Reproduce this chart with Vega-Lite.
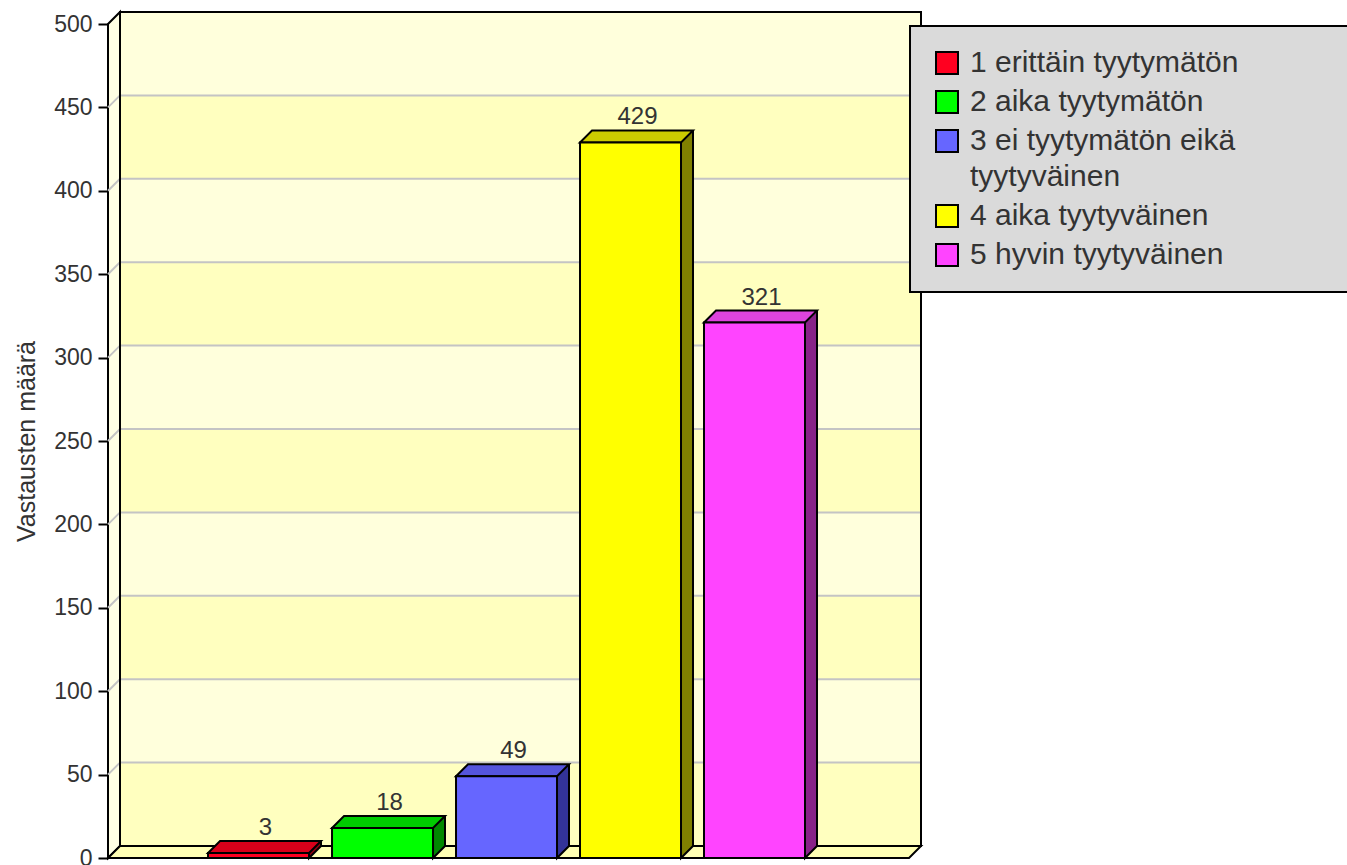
{
  "$schema": "https://vega.github.io/schema/vega-lite/v6.json",
  "width": 801,
  "height": 834,
  "autosize": {"type": "none"},
  "padding": {"left": 108, "top": 24, "right": 438, "bottom": 7},
  "background": "white",
  "config": {
    "view": {"stroke": null},
    "font": "Liberation Sans",
    "axisY": {"tickCount": 10, "grid": false, "tickSize": 10, "tickWidth": 2, "tickColor": "#000",
              "domainColor": "#000", "domainWidth": 2, "labelFont": "Liberation Sans", "labelFontSize": 23, "labelColor": "#333", "labelPadding": 6,
              "titleFont": "Liberation Sans", "titleFontSize": 25, "titleFontWeight": "normal", "titleColor": "#333", "titlePadding": 14}
  },
  "datasets": {
    "one": [{"kehys": "tausta"}],
    "bars": [
      {"arvo": 1, "vastaus": "1 erittäin tyytymätön", "maara": 3},
      {"arvo": 2, "vastaus": "2 aika tyytymätön", "maara": 18},
      {"arvo": 3, "vastaus": "3 ei tyytymätön eikä tyytyväinen", "maara": 49},
      {"arvo": 4, "vastaus": "4 aika tyytyväinen", "maara": 429},
      {"arvo": 5, "vastaus": "5 hyvin tyytyväinen", "maara": 321}
    ],
    "bands": [
      {"lo": 0, "hi": 50}, {"lo": 100, "hi": 150}, {"lo": 200, "hi": 250}, {"lo": 300, "hi": 350}, {"lo": 400, "hi": 450}
    ],
    "grid": [
      {"v": 50}, {"v": 100}, {"v": 150}, {"v": 200}, {"v": 250}, {"v": 300}, {"v": 350}, {"v": 400}, {"v": 450}
    ]
  },
  "layer": [
    {
      "data": {"name": "one"},
      "mark": {"type": "point", "shape": "M0,0L12,-12L12,822L0,834Z", "size": 4, "filled": true, "fill": "#FFFFE4", "stroke": "#000", "strokeWidth": 2, "opacity": 1},
      "encoding": {
        "x": {"datum": -0.214, "type": "quantitative", "scale": {"domain": [-0.214, 6.246], "nice": false, "zero": false, "padding": 0}, "axis": null},
        "y": {"datum": 500, "type": "quantitative", "scale": {"domain": [0, 500], "nice": false, "padding": 0}, "title": "Vastausten määrä"}
      }
    },
    {
      "data": {"name": "one"},
      "mark": {"type": "rect", "fill": "#FFFFDC", "xOffset": 12, "x2Offset": 12, "yOffset": -12, "y2Offset": -12},
      "encoding": {
        "x": {"datum": -0.214, "type": "quantitative", "scale": {"domain": [-0.214, 6.246], "nice": false, "zero": false, "padding": 0}, "axis": null},
        "x2": {"datum": 6.246},
        "y": {"datum": 500, "type": "quantitative", "scale": {"domain": [0, 500], "nice": false, "padding": 0}, "title": "Vastausten määrä"},
        "y2": {"datum": 0}
      }
    },
    {
      "data": {"name": "bands"},
      "mark": {"type": "rect", "fill": "#FFFFBF", "xOffset": 12, "x2Offset": 12, "yOffset": -12, "y2Offset": -12},
      "encoding": {
        "x": {"datum": -0.214, "type": "quantitative", "scale": {"domain": [-0.214, 6.246], "nice": false, "zero": false, "padding": 0}, "axis": null},
        "x2": {"datum": 6.246},
        "y": {"field": "hi", "type": "quantitative", "scale": {"domain": [0, 500], "nice": false, "padding": 0}, "title": "Vastausten määrä"},
        "y2": {"field": "lo"}
      }
    },
    {
      "data": {"name": "grid"},
      "mark": {"type": "rule", "stroke": "#C4C4C4", "strokeWidth": 2, "xOffset": 12, "x2Offset": 12, "yOffset": -12},
      "encoding": {
        "x": {"datum": -0.214, "type": "quantitative", "scale": {"domain": [-0.214, 6.246], "nice": false, "zero": false, "padding": 0}, "axis": null},
        "x2": {"datum": 6.246},
        "y": {"field": "v", "type": "quantitative", "scale": {"domain": [0, 500], "nice": false, "padding": 0}, "title": "Vastausten määrä"}
      }
    },
    {
      "data": {"name": "grid"},
      "mark": {"type": "rule", "stroke": "#C4C4C4", "strokeWidth": 2, "x2Offset": 12, "y2Offset": -12},
      "encoding": {
        "x": {"datum": -0.214, "type": "quantitative", "scale": {"domain": [-0.214, 6.246], "nice": false, "zero": false, "padding": 0}, "axis": null},
        "x2": {"datum": -0.214},
        "y": {"field": "v", "type": "quantitative", "scale": {"domain": [0, 500], "nice": false, "padding": 0}, "title": "Vastausten määrä"},
        "y2": {"field": "v"}
      }
    },
    {
      "data": {"name": "one"},
      "mark": {"type": "rect", "fillOpacity": 0, "stroke": "#000", "strokeWidth": 2, "xOffset": 12, "x2Offset": 12, "yOffset": -12, "y2Offset": -12},
      "encoding": {
        "x": {"datum": -0.214, "type": "quantitative", "scale": {"domain": [-0.214, 6.246], "nice": false, "zero": false, "padding": 0}, "axis": null},
        "x2": {"datum": 6.246},
        "y": {"datum": 500, "type": "quantitative", "scale": {"domain": [0, 500], "nice": false, "padding": 0}, "title": "Vastausten määrä"},
        "y2": {"datum": 0}
      }
    },
    {
      "data": {"name": "one"},
      "mark": {"type": "point", "shape": "M0,0L12,-12L813,-12L801,0Z", "size": 4, "filled": true, "fill": "#FFFFB4", "stroke": "#000", "strokeWidth": 2, "opacity": 1},
      "encoding": {
        "x": {"datum": -0.214, "type": "quantitative", "scale": {"domain": [-0.214, 6.246], "nice": false, "zero": false, "padding": 0}, "axis": null},
        "y": {"datum": 0, "type": "quantitative", "scale": {"domain": [0, 500], "nice": false, "padding": 0}, "title": "Vastausten määrä"}
      }
    },
    {
      "data": {"name": "bars"},
      "mark": {"type": "bar", "orient": "vertical", "width": 101, "xOffset": 12, "yOffset": -12, "y2Offset": -12},
      "encoding": {
        "x": {"field": "arvo", "type": "quantitative", "scale": {"domain": [-0.214, 6.246], "nice": false, "zero": false, "padding": 0}, "axis": null},
        "y": {"field": "maara", "type": "quantitative", "scale": {"domain": [0, 500], "nice": false, "padding": 0}, "title": "Vastausten määrä"},
        "fill": {"field": "vastaus", "type": "nominal", "legend": null,
          "scale": {"domain": ["1 erittäin tyytymätön", "2 aika tyytymätön", "3 ei tyytymätön eikä tyytyväinen", "4 aika tyytyväinen", "5 hyvin tyytyväinen"],
                    "range": ["#900012", "#008800", "#333399", "#808000", "#882288"]}}
      }
    },
    {
      "data": {"name": "bars"},
      "mark": {"type": "point", "shape": "M62.5,-12L50.5,0L50.5,-12", "size": 4, "filled": true, "stroke": "#000", "strokeWidth": 2, "opacity": 1},
      "encoding": {
        "x": {"field": "arvo", "type": "quantitative", "scale": {"domain": [-0.214, 6.246], "nice": false, "zero": false, "padding": 0}, "axis": null},
        "y": {"datum": 0, "type": "quantitative", "scale": {"domain": [0, 500], "nice": false, "padding": 0}, "title": "Vastausten määrä"},
        "fill": {"field": "vastaus", "type": "nominal", "legend": null,
          "scale": {"domain": ["1 erittäin tyytymätön", "2 aika tyytymätön", "3 ei tyytymätön eikä tyytyväinen", "4 aika tyytyväinen", "5 hyvin tyytyväinen"],
                    "range": ["#900012", "#008800", "#333399", "#808000", "#882288"]}}
      }
    },
    {
      "data": {"name": "bars"},
      "mark": {"type": "rule", "stroke": "#000", "strokeWidth": 2, "xOffset": 62.5, "yOffset": -12, "y2Offset": -12},
      "encoding": {
        "x": {"field": "arvo", "type": "quantitative", "scale": {"domain": [-0.214, 6.246], "nice": false, "zero": false, "padding": 0}, "axis": null},
        "y": {"field": "maara", "type": "quantitative", "scale": {"domain": [0, 500], "nice": false, "padding": 0}, "title": "Vastausten määrä"},
        "y2": {"datum": 0}
      }
    },
    {
      "data": {"name": "bars"},
      "mark": {"type": "point", "shape": "M-50.5,0L-38.5,-12L62.5,-12L50.5,0Z", "size": 4, "filled": true, "stroke": "#000", "strokeWidth": 2, "opacity": 1},
      "encoding": {
        "x": {"field": "arvo", "type": "quantitative", "scale": {"domain": [-0.214, 6.246], "nice": false, "zero": false, "padding": 0}, "axis": null},
        "y": {"field": "maara", "type": "quantitative", "scale": {"domain": [0, 500], "nice": false, "padding": 0}, "title": "Vastausten määrä"},
        "fill": {"field": "vastaus", "type": "nominal", "legend": null,
          "scale": {"domain": ["1 erittäin tyytymätön", "2 aika tyytymätön", "3 ei tyytymätön eikä tyytyväinen", "4 aika tyytyväinen", "5 hyvin tyytyväinen"],
                    "range": ["#D8001A", "#00CC00", "#5555DD", "#CCCC00", "#DD44DD"]}}
      }
    },
    {
      "data": {"name": "bars"},
      "mark": {"type": "bar", "orient": "vertical", "width": 101, "stroke": "#000", "strokeWidth": 2},
      "encoding": {
        "x": {"field": "arvo", "type": "quantitative", "scale": {"domain": [-0.214, 6.246], "nice": false, "zero": false, "padding": 0}, "axis": null},
        "y": {"field": "maara", "type": "quantitative", "scale": {"domain": [0, 500], "nice": false, "padding": 0}, "title": "Vastausten määrä"},
        "fill": {"field": "vastaus", "type": "nominal",
          "scale": {"domain": ["1 erittäin tyytymätön", "2 aika tyytymätön", "3 ei tyytymätön eikä tyytyväinen", "4 aika tyytyväinen", "5 hyvin tyytyväinen"],
                    "range": ["#FF0020", "#00FF00", "#6666FF", "#FFFF00", "#FF44FF"]},
          "legend": {"orient": "none", "legendX": 802, "legendY": 2, "title": null, "fillColor": "#DADADA", "strokeColor": "#000", "padding": 22,
                     "symbolType": "square", "symbolSize": 484, "symbolStrokeColor": "#000", "symbolStrokeWidth": 2, "symbolOpacity": 1,
                     "labelFont": "Liberation Sans", "labelFontSize": 30, "labelColor": "#333", "labelLimit": 2000, "labelOffset": 8, "rowPadding": 9,
                     "labelExpr": "datum.label == '3 ei tyytymätön eikä tyytyväinen' ? ['3 ei tyytymätön eikä', 'tyytyväinen'] : datum.label == '1 erittäin tyytymätön' ? datum.label + '\u00a0\u00a0\u00a0\u00a0\u00a0\u00a0\u00a0\u00a0\u00a0\u2800' : datum.label",
                     "encode": {"labels": {"update": {"lineHeight": {"value": 36}}}, "legend": {"update": {"strokeWidth": {"value": 2}}}}}}
      }
    },
    {
      "data": {"name": "bars"},
      "mark": {"type": "text", "font": "Liberation Sans", "fontSize": 24, "fill": "#333", "align": "center", "baseline": "alphabetic", "xOffset": 7, "yOffset": -18},
      "encoding": {
        "x": {"field": "arvo", "type": "quantitative", "scale": {"domain": [-0.214, 6.246], "nice": false, "zero": false, "padding": 0}, "axis": null},
        "y": {"field": "maara", "type": "quantitative", "scale": {"domain": [0, 500], "nice": false, "padding": 0}, "title": "Vastausten määrä"},
        "text": {"field": "maara", "type": "quantitative"}
      }
    }
  ],
  "resolve": {"scale": {"fill": "independent"}}
}
